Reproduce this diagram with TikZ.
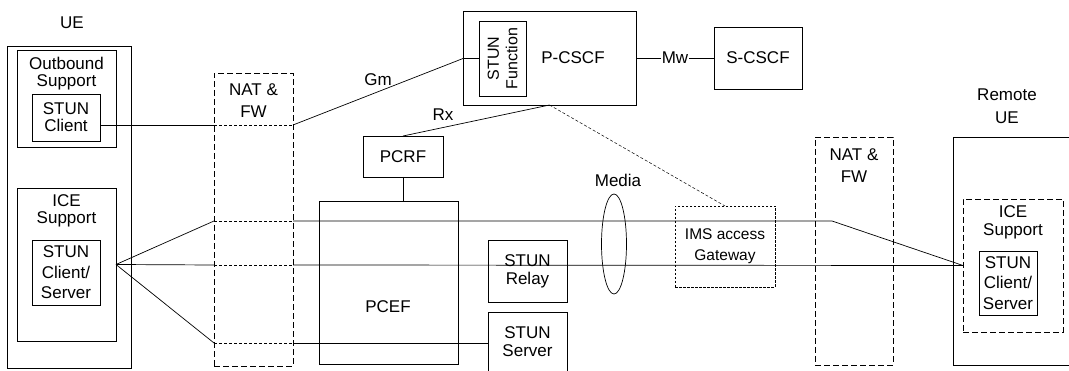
\documentclass[tikz,border=0pt]{standalone}
\usepackage{fontspec}
\setmainfont{Liberation Sans}
\usetikzlibrary{positioning, calc, shapes.geometric}

\begin{document}
\begin{tikzpicture}[x=1pt, y=-1pt, line width=0.7pt,
    every node/.style={font=\fontsize{17}{18}\selectfont, inner sep=0pt, outer sep=0pt},
    box/.style={draw},
    dbox/.style={draw, dash pattern=on 6pt off 3pt},
    fbox/.style={draw, dash pattern=on 2.5pt off 1.5pt},
    fline/.style={dash pattern=on 3pt off 2pt},
    txt/.style={align=center}]
  \useasboundingbox (0,0) rectangle (1069,371);
  \clip (0,0) rectangle (1069,371);

  % UE on the left
  \node (ueT) at (72,23) {UE};
  \node[box, minimum width=124pt, minimum height=322pt] (ue) at (69,207) {};
  \node[box, minimum width=99pt, minimum height=97pt] (obs) at (66.5,98.5) {};
  \node[txt, font=\fontsize{17}{17}\selectfont] (obsT) at (66.5,73.5) {Outbound\\Support};
  \node[box, txt, minimum width=68pt, minimum height=47pt, font=\fontsize{17}{17}\selectfont] (stunc) at (66,117.5) {STUN\\Client};
  \node[box, minimum width=99pt, minimum height=153pt] (ice) at (66.5,264.5) {};
  \node[txt, font=\fontsize{17}{17}\selectfont] (iceT) at (66.5,210.5) {ICE\\Support};
  \node[box, txt, minimum width=68pt, minimum height=65pt, font=\fontsize{17}{20.5}\selectfont] (stuncs) at (66,272.5) {STUN\\Client/\\Server};

  % NAT & FW (left)
  \node[dbox, minimum width=79pt, minimum height=293pt] (natA) at (253.5,219.5) {};
  \node[txt, font=\fontsize{17}{22}\selectfont] (natAT) at (253.5,101) {NAT \&\\FW};

  % IMS core
  \node[box, minimum width=173pt, minimum height=94pt] (pcscf) at (549.5,58) {};
  \node (pcscfT) at (573,58) {P-CSCF};
  \node[box, minimum width=47pt, minimum height=75pt] (stunf) at (502.5,58.5) {};
  \node[txt, rotate=90, font=\fontsize{16}{18.5}\selectfont] (stunfT) at (502.5,58.5) {STUN\\Function};
  \node[box, minimum width=88pt, minimum height=62pt] (scscf) at (758,58) {S-CSCF};

  % policy and user plane
  \node[box, minimum width=80pt, minimum height=41pt] (pcrf) at (403,156.5) {PCRF};
  \node[box, minimum width=139pt, minimum height=163pt] (pcef) at (388.5,282.5) {};
  \node (pcefT) at (388,307) {PCEF};
  \node[box, txt, minimum width=79pt, minimum height=62pt] (relay) at (527.5,271) {STUN\\Relay};
  \node[box, txt, minimum width=79pt, minimum height=60pt] (server) at (527.5,342) {STUN\\Server};
  \node[draw, ellipse, minimum width=25pt, minimum height=100pt] (media) at (614,244) {};
  \node (mediaT) at (618,180) {Media};
  \node[fbox, txt, minimum width=100pt, minimum height=81pt, font=\fontsize{15.5}{21}\selectfont] (imsgw) at (725,246.5) {IMS access\\Gateway};

  % NAT & FW (right)
  \node[dbox, minimum width=78pt, minimum height=228pt] (natB) at (854,251) {};
  \node[txt, font=\fontsize{17}{22}\selectfont] (natBT) at (854,166) {NAT \&\\FW};

  % Remote UE
  \node[txt, font=\fontsize{17}{23}\selectfont] (rueT) at (1007,106) {Remote\\UE};
  \node[box, minimum width=122pt, minimum height=228pt] (rue) at (1014,251) {};
  \node[dbox, minimum width=100pt, minimum height=133pt] (iceB) at (1013,265.5) {};
  \node[txt, font=\fontsize{17}{18}\selectfont] (iceBT) at (1013,222.5) {ICE\\Support};
  \node[box, txt, minimum width=58pt, minimum height=64pt, font=\fontsize{17}{20.5}\selectfont] (stuncsB) at (1008,283) {STUN\\Client/\\Server};

  % points where the links pass the left NAT
  \coordinate (gA) at (214,125);
  \coordinate (gB) at (293,125);
  \coordinate (tA) at (214,221);
  \coordinate (tB) at (293,221);
  \coordinate (mA) at (214,265);
  \coordinate (mB) at (293,265);
  \coordinate (bA) at (214,343);
  \coordinate (bB) at (293,343);
  \coordinate (tC) at (832,221);

  % signalling
  \draw (stunc.east |- gA) -- (gA);
  \draw[fline] (gA) -- (gB);
  \draw (gB) -- (pcscf.west |- stunf.west) -- (stunf.west);
  \node[fill=white] (gmT) at (378,80) {Gm};
  \draw (pcscf.south) -- (pcrf.north);
  \node[fill=white, inner sep=1pt] (rxT) at (443,115) {Rx};
  \draw (pcscf.east) -- node[fill=white, inner sep=1pt] (mwT) {Mw} (scscf.west);
  \draw[fline, line width=0.5pt] (pcscf.south) -- (imsgw.north);
  \draw (pcrf.south) -- (pcrf.south |- pcef.north);

  % media paths
  \draw (ice.east) -- (tA);
  \draw[fline] (tA) -- (tB);
  \draw (tB) -- (tC) -- (iceB.west);
  \draw (ice.east) -- (mA);
  \draw[fline] (mA) -- (mB);
  \draw (mB) -- (iceB.west);
  \draw (ice.east) -- (bA);
  \draw[fline] (bA) -- (bB);
  \draw (bB) -- (server.west |- bB);
\end{tikzpicture}
\end{document}
